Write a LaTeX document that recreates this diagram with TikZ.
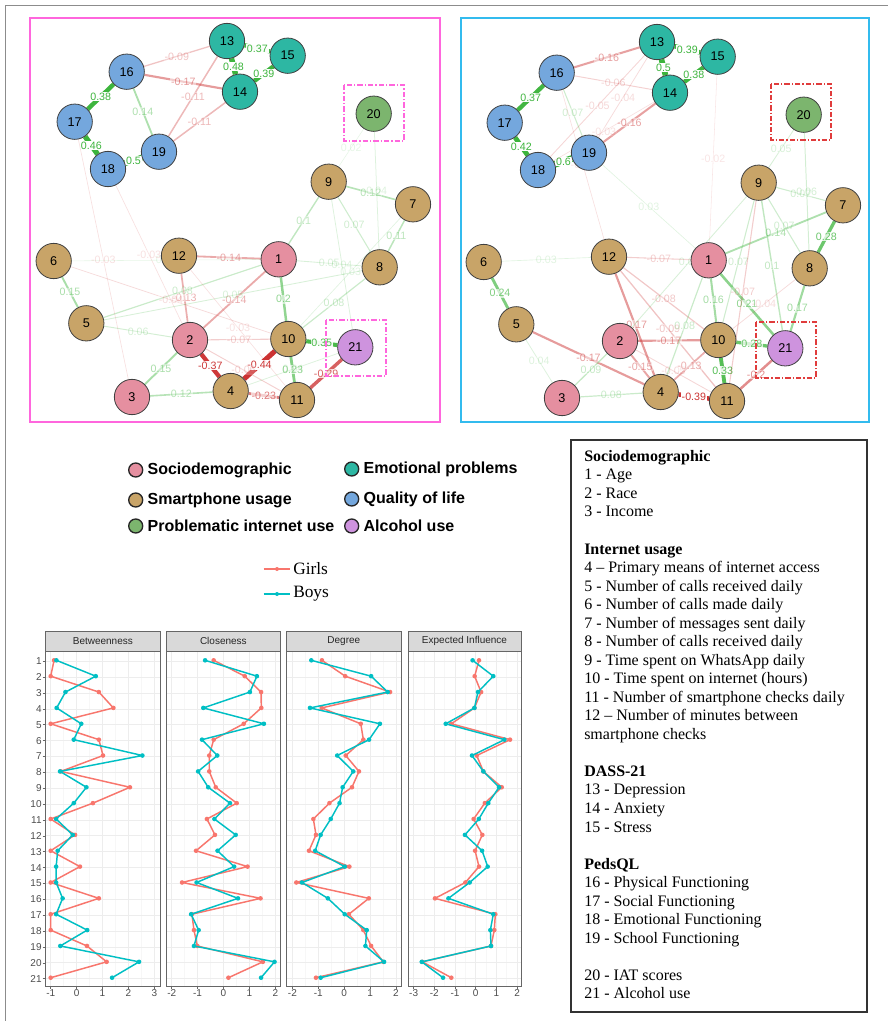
\documentclass[tikz,border=0pt]{standalone}
\usepackage{fontspec}
\setmainfont{Liberation Serif}
\setsansfont{Liberation Sans}
\usetikzlibrary{positioning,backgrounds}

\definecolor{socio}{HTML}{E58FA0}
\definecolor{phone}{HTML}{C8A468}
\definecolor{emo}{HTML}{2DB7A3}
\definecolor{qol}{HTML}{74A7DD}
\definecolor{piu}{HTML}{7CB56E}
\definecolor{alc}{HTML}{CE93DE}
\definecolor{posc}{HTML}{3CB43C}
\definecolor{negc}{HTML}{CC3333}
\definecolor{girlc}{HTML}{F8766D}
\definecolor{boyc}{HTML}{00BFC4}
\definecolor{pinkframe}{HTML}{FF66DD}
\definecolor{blueframe}{HTML}{33BBEE}
\definecolor{redbox}{HTML}{E03C3C}

% edge of the network: colour from the sign, width and fade from the weight
\newcommand{\netedge}[3]{%
  \ifdim #3pt<0pt \def\ecol{negc}\else\def\ecol{posc}\fi
  \pgfmathsetmacro{\ew}{abs(#3)*8+0.25}%
  \pgfmathsetmacro{\eo}{min(1,0.08+abs(#3)*2.4)}%
  \draw[draw=\ecol,line width=\ew pt,draw opacity=\eo]
    (#1) -- node[elab,text=\ecol,text opacity=\eo,fill opacity=\eo] {#3} (#2);
}

% one line of the centrality plot
\newcommand{\cseries}[4]{%
  \foreach \v [count=\i] in {#4}
    \coordinate (p\i) at ({#1+\v*#2},{660.3+(\i-1)*15.87});
  \draw[#3,line width=1.1pt,line join=round] (p1) \foreach \i in {2,...,21} {-- (p\i)};
  \foreach \i in {1,...,21} \fill[#3] (p\i) circle[radius=2.3];
}

\begin{document}
\begin{tikzpicture}[x=0.75pt,y=-0.75pt,
  vnode/.style={circle,draw=black!75,line width=0.6pt,minimum size=26.5pt,inner sep=0pt,font=\fontsize{9.5}{9.5}\sffamily},
  elab/.style={font=\fontsize{8}{8}\sffamily,inner sep=0.6pt,fill=white},
  lgdot/.style={circle,draw=black!85,line width=1pt,minimum size=10.5pt,inner sep=0pt},
  lgtext/.style={font=\fontsize{12}{12}\sffamily\bfseries,inner sep=0pt},
  hilite/.style={dash pattern=on 4pt off 1.5pt on 1pt off 1.5pt,line width=0.8pt},
  panel/.style={draw=black!60,line width=0.5pt},
  strip/.style={panel,fill=black!15},
  tick/.style={font=\fontsize{7.5}{7.5}\sffamily,text=black!70,inner sep=0.5pt}]

\useasboundingbox (0,0) rectangle (888,1021);
\draw[black!45,line width=1.2pt] (888,5.5) -- (5.5,5.5) -- (5.5,1021);

% the two networks (girls left, boys right)
\draw[pinkframe,line width=0.9pt] (30,18) rectangle (440,422);
\draw[blueframe,line width=0.9pt] (461,18) rectangle (869,422);

\foreach \n/\px/\py/\c in {1/278.7/259.3/socio, 2/190/340/socio, 3/132/397/socio,
  4/230.7/391/phone, 5/86.3/323.3/phone, 6/53.7/261/phone, 7/413/204.3/phone,
  8/379.7/267.3/phone, 9/328.7/181.7/phone, 10/288.3/339/phone, 11/297/400/phone,
  12/179/255.7/phone, 13/227/41/emo, 14/240/91.7/emo, 15/287.7/55.7/emo,
  16/126.7/71.7/qol, 17/74.7/121.7/qol, 18/108/169/qol, 19/159/151.7/qol,
  20/373.7/113.7/piu, 21/355.3/347.3/alc}
{
  \node[vnode,fill=\c] (a\n) at (\px,\py) {\n};
  \node[vnode,fill=\c] (b\n) at (\px+430,\py+1) {\n};
}

\draw[hilite,pinkframe] (344,85) rectangle (404,141);
\draw[hilite,pinkframe] (326,320) rectangle (386,376);
\draw[hilite,redbox] (771,84) rectangle (831,140);
\draw[hilite,redbox] (756,322) rectangle (816,378);

\begin{pgfonlayer}{background}
  % girls
  \netedge{a16}{a17}{0.38}
  \netedge{a17}{a18}{0.46}
  \netedge{a18}{a19}{0.5}
  \netedge{a13}{a14}{0.48}
  \netedge{a13}{a15}{0.37}
  \netedge{a14}{a15}{0.39}
  \netedge{a16}{a19}{0.14}
  \netedge{a16}{a14}{-0.17}
  \netedge{a16}{a13}{-0.09}
  \netedge{a19}{a13}{-0.11}
  \netedge{a19}{a14}{-0.11}
  \netedge{a12}{a1}{-0.14}
  \netedge{a12}{a2}{-0.13}
  \netedge{a2}{a1}{-0.14}
  \netedge{a1}{a10}{0.2}
  \netedge{a10}{a21}{0.35}
  \netedge{a10}{a4}{-0.44}
  \netedge{a2}{a4}{-0.37}
  \netedge{a10}{a11}{0.23}
  \netedge{a21}{a11}{-0.29}
  \netedge{a4}{a11}{-0.23}
  \netedge{a3}{a4}{0.12}
  \netedge{a3}{a2}{0.15}
  \netedge{a6}{a5}{0.15}
  \netedge{a9}{a7}{0.12}
  \netedge{a7}{a8}{0.11}
  \netedge{a9}{a8}{0.07}
  \netedge{a9}{a1}{0.1}
  \netedge{a1}{a8}{0.05}
  \netedge{a5}{a2}{0.06}
  \netedge{a5}{a1}{0.08}
  \netedge{a2}{a10}{-0.07}
  \netedge{a10}{a8}{0.08}
  \netedge{a20}{a8}{0.04}
  \netedge{a9}{a21}{0.04}
  \netedge{a6}{a1}{0.02}
  \netedge{a6}{a10}{-0.04}
  \netedge{a18}{a2}{-0.03}
  \netedge{a17}{a3}{-0.03}
  \netedge{a2}{a11}{-0.06}
  \netedge{a4}{a21}{0.04}
  \netedge{a5}{a8}{0.05}
  \netedge{a7}{a10}{0.03}
  \netedge{a20}{a9}{0.02}
  \netedge{a12}{a11}{-0.03}
  % boys
  \netedge{b16}{b17}{0.37}
  \netedge{b17}{b18}{0.42}
  \netedge{b18}{b19}{0.6}
  \netedge{b13}{b14}{0.5}
  \netedge{b13}{b15}{0.39}
  \netedge{b14}{b15}{0.38}
  \netedge{b16}{b13}{-0.16}
  \netedge{b16}{b14}{-0.06}
  \netedge{b19}{b14}{-0.16}
  \netedge{b16}{b19}{0.07}
  \netedge{b19}{b13}{-0.04}
  \netedge{b18}{b13}{-0.05}
  \netedge{b18}{b14}{-0.03}
  \netedge{b16}{b12}{-0.03}
  \netedge{b15}{b1}{-0.02}
  \netedge{b19}{b1}{0.03}
  \netedge{b9}{b7}{0.07}
  \netedge{b20}{b8}{0.06}
  \netedge{b20}{b9}{0.05}
  \netedge{b7}{b8}{0.28}
  \netedge{b7}{b1}{0.14}
  \netedge{b9}{b8}{0.07}
  \netedge{b9}{b21}{0.1}
  \netedge{b12}{b1}{-0.07}
  \netedge{b6}{b12}{0.03}
  \netedge{b6}{b5}{0.24}
  \netedge{b5}{b4}{-0.17}
  \netedge{b5}{b3}{0.04}
  \netedge{b3}{b2}{0.09}
  \netedge{b3}{b4}{0.08}
  \netedge{b12}{b4}{-0.17}
  \netedge{b12}{b10}{-0.08}
  \netedge{b12}{b11}{-0.09}
  \netedge{b2}{b10}{-0.17}
  \netedge{b2}{b4}{-0.15}
  \netedge{b2}{b11}{-0.05}
  \netedge{b1}{b4}{0.08}
  \netedge{b10}{b1}{0.16}
  \netedge{b1}{b21}{0.21}
  \netedge{b10}{b21}{0.28}
  \netedge{b10}{b11}{0.33}
  \netedge{b4}{b11}{-0.39}
  \netedge{b11}{b21}{-0.2}
  \netedge{b8}{b21}{0.17}
  \netedge{b4}{b10}{-0.13}
  \netedge{b9}{b10}{0.07}
  \netedge{b9}{b11}{-0.07}
  \netedge{b8}{b10}{-0.04}
  \netedge{b9}{b2}{0.05}
\end{pgfonlayer}

% legend of the groups
\node[lgdot,fill=socio] (lg1) at (135.7,470) {};
\node[lgtext,right=3pt of lg1] {Sociodemographic};
\node[lgdot,fill=phone] (lg2) at (135.7,500) {};
\node[lgtext,right=3pt of lg2] {Smartphone usage};
\node[lgdot,fill=piu] (lg3) at (135.7,526) {};
\node[lgtext,right=3pt of lg3] {Problematic internet use};
\node[lgdot,fill=emo] (lg4) at (351.7,469) {};
\node[lgtext,right=3pt of lg4] {Emotional problems};
\node[lgdot,fill=qol] (lg5) at (351.7,499) {};
\node[lgtext,right=3pt of lg5] {Quality of life};
\node[lgdot,fill=alc] (lg6) at (351.7,526) {};
\node[lgtext,right=3pt of lg6] {Alcohol use};

% legend of the plot
\coordinate (gk) at (277,569);
\coordinate (bk) at (277,594);
\draw[girlc,line width=1pt] ([xshift=-10]gk) -- ([xshift=10]gk);
\fill[girlc] (gk) circle[radius=2];
\node[anchor=west,font=\fontsize{13}{13}\selectfont,inner sep=0pt] at (293,569) {Girls};
\draw[boyc,line width=1pt] ([xshift=-10]bk) -- ([xshift=10]bk);
\fill[boyc] (bk) circle[radius=2];
\node[anchor=west,font=\fontsize{13}{13}\selectfont,inner sep=0pt] at (293,594) {Boys};

% centrality panels
\foreach \pl/\pr/\pz/\pu/\tmin/\tmax/\ttl in {45.7/160/76.6/25.9/-1/3/Betweenness,
  166/280.7/223.5/25.9/-2/2/Closeness, 286.7/401/344.2/25.9/-2/2/Degree,
  408/521/475.7/20.67/-3/2/Expected Influence}
{
  \fill[white] (\pl,651) rectangle (\pr,986);
  \foreach \t in {\tmin,...,\tmax}{
    \draw[black!7,line width=0.6pt] (\pz+\t*\pu,651) -- (\pz+\t*\pu,986);
    \ifnum\t<\tmax \draw[black!3,line width=0.4pt] (\pz+\t*\pu+0.5*\pu,651) -- ++(0,335); \fi
    \draw[black!60,line width=0.5pt] (\pz+\t*\pu,986) -- ++(0,3);
    \node[tick,anchor=north] at (\pz+\t*\pu,989) {\t};
  }
  \foreach \r in {1,...,21}
    \draw[black!7,line width=0.6pt] (\pl,645.43+\r*15.87) -- (\pr,645.43+\r*15.87);
  \draw[panel] (\pl,651) rectangle (\pr,986);
  \draw[strip] (\pl,631) rectangle (\pr,651);
  \node[font=\fontsize{7.5}{7.5}\sffamily,text=black!85] at ({(\pl+\pr)/2},641) {\ttl};
}
\foreach \r in {1,...,21}{
  \draw[black!60,line width=0.5pt] (42.5,645.43+\r*15.87) -- (45.7,645.43+\r*15.87);
  \node[tick,anchor=east] at (42.5,645.43+\r*15.87) {\r};
}

\cseries{76.6}{25.9}{girlc}{-0.87,-1,0.86,1.42,-1,0.86,1.02,-0.61,2.06,0.63,-1,-0.06,-1,0.13,-1,0.86,-1,-1,0.40,1.16,-1}
\cseries{76.6}{25.9}{boyc}{-0.78,0.74,-0.43,-0.77,0.18,-0.11,2.54,-0.64,0.38,-0.11,-0.79,-0.15,-0.73,-0.79,-0.79,-0.54,-0.79,0.41,-0.63,2.41,1.37}
\cseries{223.5}{25.9}{girlc}{-0.38,0.82,1.45,1.46,0.78,-0.38,-0.55,-0.55,-0.30,0.51,-0.64,-0.33,-1.06,0.93,-1.60,1.43,-1.22,-1.14,-1.01,1.52,0.19}
\cseries{223.5}{25.9}{boyc}{-0.71,1.29,1.02,-0.78,1.56,-0.83,-0.24,-0.98,-0.59,0.25,-0.35,0.47,-0.23,0.41,-1.04,0.56,-1.25,-0.96,-1.14,1.97,1.45}
\cseries{344.2}{25.9}{girlc}{-0.86,0.04,1.77,-0.87,0.64,0.74,0.06,0.57,0.30,-0.57,-1.19,-1.09,-1.36,0.20,-1.85,0.95,0.18,0.74,1.04,1.51,-1.09}
\cseries{344.2}{25.9}{boyc}{-1.27,1.04,1.68,-1.32,1.38,0.96,-0.27,0.35,-0.06,-0.18,-0.52,-0.91,-1.12,0.02,-1.63,-0.63,0.02,0.87,0.82,1.54,-0.91}
\cseries{475.7}{20.67}{girlc}{0.16,-0.05,0.26,-0.06,-1.18,1.66,0.05,0.37,1.26,0.44,-0.10,0.32,-0.03,0.16,-0.50,-1.97,0.95,0.90,0.74,-2.58,-1.18}
\cseries{475.7}{20.67}{boyc}{-0.15,0.85,0.11,-0.06,-1.45,1.39,-0.18,0.37,1.13,0.61,0.15,-0.52,0.31,0.58,-0.29,-1.32,0.85,0.71,0.74,-2.61,-1.58}

% variable key
\draw[black!80,line width=0.9pt] (571,440) rectangle (867,1012);
\node[anchor=north west,inner sep=0pt,align=left,font=\fontsize{12}{13.9}\selectfont] (key) at (584,450) {%
\textbf{Sociodemographic}\\
1 - Age\\
2 - Race\\
3 - Income\\[13.9pt]
\textbf{Internet usage}\\
4 – Primary means of internet access\\
5 - Number of calls received daily\\
6 - Number of calls made daily\\
7 - Number of messages sent daily\\
8 - Number of calls received daily\\
9 - Time spent on WhatsApp daily\\
10 - Time spent on internet (hours)\\
11 - Number of smartphone checks daily\\
12 – Number of minutes between\\
smartphone checks\\[13.9pt]
\textbf{DASS-21}\\
13 - Depression\\
14 - Anxiety\\
15 - Stress\\[13.9pt]
\textbf{PedsQL}\\
16 - Physical Functioning\\
17 - Social Functioning\\
18 - Emotional Functioning\\
19 - School Functioning\\[13.9pt]
20 - IAT scores\\
21 - Alcohol use};
\end{tikzpicture}
\end{document}
